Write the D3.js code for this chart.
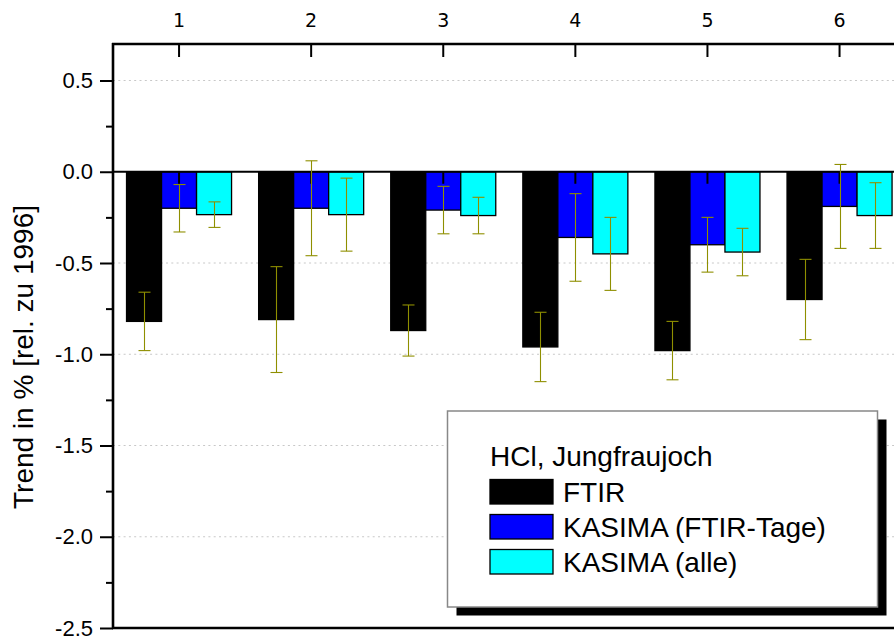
<!DOCTYPE html>
<html><head><meta charset="utf-8">
<script src="https://cdn.jsdelivr.net/npm/d3@7"></script>
<style>html,body{margin:0;padding:0;background:#fff;overflow:hidden}</style>
</head><body>
<svg id="chart" width="894" height="637"></svg>
<script>
const categories = ["1","2","3","4","5","6"];
const seriesNames = ["FTIR","KASIMA (FTIR-Tage)","KASIMA (alle)"];
const seriesColors = ["#000000","#0000ff","#00ffff"];
const ftir = [-0.82,-0.81,-0.87,-0.96,-0.98,-0.70];
const ftirErr = [0.16,0.29,0.14,0.19,0.16,0.22];
const kasimaFt = [-0.20,-0.20,-0.21,-0.36,-0.40,-0.19];
const kasimaFtErr = [0.13,0.26,0.13,0.24,0.15,0.23];
const kasimaAll = [-0.235,-0.235,-0.24,-0.45,-0.44,-0.24];
const kasimaAllErr = [0.07,0.20,0.10,0.20,0.13,0.18];
const yTicks = [0.5,0.0,-0.5,-1.0,-1.5,-2.0,-2.5];
const yMinor = [0.25,-0.25,-0.75,-1.25,-1.75,-2.25];
const gridTicks = [0.5,-0.5,-1.0,-1.5,-2.0];
const yLabel = "Trend in % [rel. zu 1996]";
const legendTitle = "HCl, Jungfraujoch";

const values = [ftir,kasimaFt,kasimaAll];
const errs = [ftirErr,kasimaFtErr,kasimaAllErr];
const data = [];
categories.forEach((c,i)=>seriesNames.forEach((s,j)=>data.push({c,s,j,v:values[j][i],e:errs[j][i]})));

const svg = d3.select("#chart");
const L=113, T=44, B=628, step=132.1;
const R = L + step*categories.length;

const y = d3.scaleLinear().domain([-2.5,0.7]).range([B,T]);
const x = d3.scaleBand().domain(categories).range([L,R]).paddingInner(0.205).paddingOuter(0.1025);
const xs = d3.scaleBand().domain(seriesNames).range([0,x.bandwidth()]);

// grid
svg.append("g").selectAll("line").data(gridTicks).join("line")
  .attr("x1",L).attr("x2",894).attr("y1",d=>y(d)).attr("y2",d=>y(d))
  .attr("stroke","#c8c8c8").attr("stroke-width",1).attr("stroke-dasharray","2,3.3");

// bars
svg.append("g").selectAll("rect").data(data).join("rect")
  .attr("x",d=>x(d.c)+xs(d.s))
  .attr("width",xs.bandwidth())
  .attr("y",d=>y(Math.max(0,d.v)))
  .attr("height",d=>Math.abs(y(d.v)-y(0)))
  .attr("fill",d=>seriesColors[d.j])
  .attr("stroke","#000").attr("stroke-width",1.3);

// zero line
svg.append("line").attr("x1",L).attr("x2",894).attr("y1",y(0)).attr("y2",y(0))
  .attr("stroke","#000").attr("stroke-width",2.2);
// zero line ticks
svg.append("g").selectAll("line").data(categories).join("line")
  .attr("x1",d=>x(d)+x.bandwidth()/2).attr("x2",d=>x(d)+x.bandwidth()/2)
  .attr("y1",y(0)).attr("y2",y(0)+12).attr("stroke","#000").attr("stroke-width",2);

// error bars
const eg = svg.append("g").attr("stroke","#8f8f00").attr("stroke-width",1.1);
data.forEach(d=>{
  const cx = Math.round(x(d.c)+xs(d.s)+xs.bandwidth()/2)+0.5;
  const y1 = y(d.v+d.e), y2 = y(d.v-d.e);
  eg.append("line").attr("x1",cx).attr("x2",cx).attr("y1",y1).attr("y2",y2);
  eg.append("line").attr("x1",cx-6).attr("x2",cx+6).attr("y1",y1).attr("y2",y1);
  eg.append("line").attr("x1",cx-6).attr("x2",cx+6).attr("y1",y2).attr("y2",y2);
});

// left axis
const fmt = d => d.toFixed(1);
const yAxis = d3.axisLeft(y).tickValues(yTicks).tickFormat(fmt).tickSize(13).tickPadding(7);
const ga = svg.append("g").attr("transform",`translate(${L},0)`).call(yAxis);
ga.select(".domain").remove();
ga.selectAll(".tick line").attr("stroke-width",2);
ga.selectAll(".tick text").attr("font-family","Liberation Sans, Arial, sans-serif").attr("font-size",22).attr("fill","#000");
const gm = svg.append("g").attr("transform",`translate(${L},0)`).call(d3.axisLeft(y).tickValues(yMinor).tickSize(7).tickFormat(""));
gm.select(".domain").remove();
gm.selectAll(".tick line").attr("stroke-width",2);
svg.append("line").attr("x1",L).attr("x2",L).attr("y1",T-1).attr("y2",B+1).attr("stroke","#000").attr("stroke-width",2.6);

// top axis
const xAxis = d3.axisTop(x).tickSize(-13).tickPadding(17);
const gt = svg.append("g").attr("transform",`translate(0,${T})`).call(xAxis);
gt.select(".domain").remove();
gt.selectAll(".tick line").attr("stroke-width",2);
gt.selectAll(".tick text").attr("font-family","DejaVu Sans, sans-serif").attr("font-size",19).attr("fill","#000");
svg.append("line").attr("x1",L-1).attr("x2",894).attr("y1",T).attr("y2",T).attr("stroke","#000").attr("stroke-width",2.6);
// bottom axis
svg.append("line").attr("x1",L-1).attr("x2",894).attr("y1",B).attr("y2",B).attr("stroke","#000").attr("stroke-width",2.6);

// y label
svg.append("text").attr("transform",`translate(33,357) rotate(-90)`).attr("text-anchor","middle")
  .attr("font-family","Liberation Sans, Arial, sans-serif").attr("font-size",28).text(yLabel);

// legend
const lx=447.5, ly=411, lw=430, lh=196;
svg.append("rect").attr("x",lx+9).attr("y",ly+8.5).attr("width",lw).attr("height",lh).attr("fill","#000");
svg.append("rect").attr("x",lx).attr("y",ly).attr("width",lw).attr("height",lh).attr("fill","#fff").attr("stroke","#888").attr("stroke-width",1.5);
svg.append("text").attr("x",490).attr("y",466).attr("font-family","Liberation Sans, Arial, sans-serif").attr("font-size",28).text(legendTitle);
const lg = svg.append("g").selectAll("g").data(seriesNames).join("g")
  .attr("transform",(d,i)=>`translate(490,${479.5+i*35})`);
lg.append("rect").attr("width",63).attr("height",24.5).attr("fill",(d,i)=>seriesColors[i]).attr("stroke","#000").attr("stroke-width",1.3);
lg.append("text").attr("x",73).attr("y",22).attr("font-family","Liberation Sans, Arial, sans-serif").attr("font-size",28).text(d=>d);
</script>
</body></html>
